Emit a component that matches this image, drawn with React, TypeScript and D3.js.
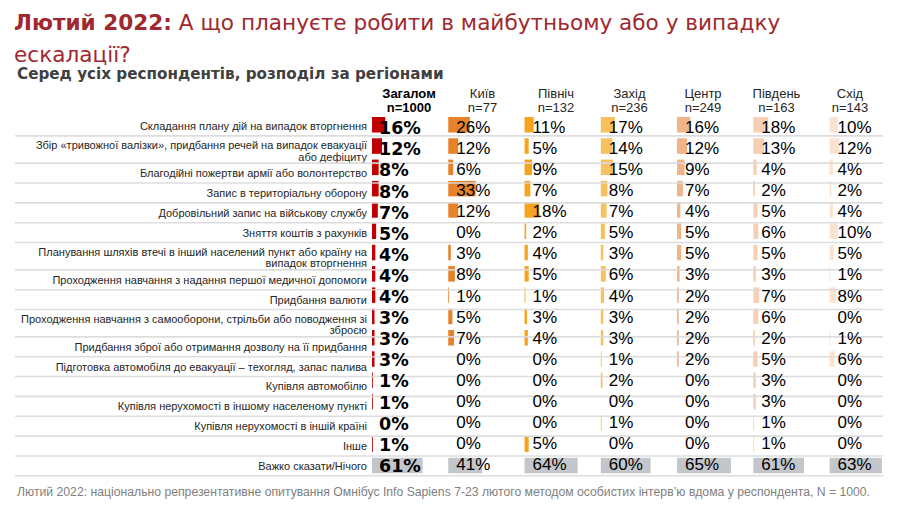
import React from 'react';
import * as d3 from 'd3';

const regions = ['Загалом', 'Київ', 'Північ', 'Захід', 'Центр', 'Південь', 'Схід'];
const sampleSizes = [1000, 77, 132, 236, 249, 163, 143];

const labelLines: string[][] = [
  ['Складання плану дій на випадок вторгнення'],
  ['Збір «тривожної валізки», придбання речей на випадок евакуації', 'або дефіциту'],
  ['Благодійні пожертви армії або волонтерство'],
  ['Запис в територіальну оборону'],
  ['Добровільний запис на військову службу'],
  ['Зняття коштів з рахунків'],
  ['Планування шляхів втечі в інший населений пункт або країну на', 'випадок вторгнення'],
  ['Проходження навчання з надання першої медичної допомоги'],
  ['Придбання валюти'],
  ['Проходження навчання з самооборони, стрільби або поводження зі', 'зброєю'],
  ['Придбання зброї або отримання дозволу на її придбання'],
  ['Підготовка автомобіля до евакуації – техогляд, запас палива'],
  ['Купівля автомобілю'],
  ['Купівля нерухомості в іншому населеному пункті'],
  ['Купівля нерухомості в іншій країні'],
  ['Інше'],
  ['Важко сказати/Нічого'],
];

const total = [16, 12, 8, 8, 7, 5, 4, 4, 4, 3, 3, 3, 1, 1, 0, 1, 61];
const kyiv = [26, 12, 6, 33, 12, 0, 3, 8, 1, 5, 7, 0, 0, 0, 0, 0, 41];
const north = [11, 5, 9, 7, 18, 2, 4, 5, 1, 3, 4, 0, 0, 0, 0, 5, 64];
const west = [17, 14, 15, 8, 7, 5, 3, 6, 4, 3, 3, 1, 2, 0, 1, 0, 60];
const center = [16, 12, 9, 7, 4, 5, 5, 3, 2, 2, 2, 2, 0, 0, 0, 0, 65];
const south = [18, 13, 4, 2, 5, 6, 5, 3, 7, 6, 2, 5, 3, 3, 1, 1, 61];
const east = [10, 12, 4, 2, 4, 10, 5, 1, 8, 0, 1, 6, 0, 0, 0, 0, 63];

const series = [total, kyiv, north, west, center, south, east];
const colColors = ['#c00000', '#e8822a', '#f6a41e', '#f8c05e', '#f0b488', '#f7cfb2', '#fbe3d1'];
const lastRowColor = '#c3c7cb';

const titleBold = 'Лютий 2022:';
const titleRest = ' А що плануєте робити в майбутньому або у випадку';
const titleLine2 = 'ескалації?';
const subtitle = 'Серед усіх респондентів, розподіл за регіонами';
const footer = 'Лютий 2022:  національно репрезентативне опитування Омнібус Info Sapiens 7-23 лютого методом особистих інтерв\u2019ю вдома у респондента, N = 1000.';

export default function App() {
  const W = 906;
  const H = 507;
  const n = labelLines.length;
  const last = n - 1;

  const colX = d3.scaleLinear().domain([0, regions.length - 1]).range([372, 829.6]);
  const headX = d3.scaleLinear().domain([0, regions.length - 1]).range([409, 850]);
  const barW = d3.scaleLinear().domain([0, 100]).range([0, 83]);
  const barY = d3.scaleLinear().domain([0, last]).range([117, 117 + last * 21.3]);
  const textY = d3.scaleLinear().domain([0, last]).range([132.7, 132.7 + last * 21.1]);

  // label table rows
  const h1 = 19.85;
  const h2 = 27.3;
  const rowTops: number[] = [];
  let acc = 116;
  labelLines.forEach((l) => {
    rowTops.push(acc);
    acc += l.length > 1 ? h2 : h1;
  });
  const rowBottoms = labelLines.map((l, i) => rowTops[i] + (l.length > 1 ? h2 : h1));

  const labelFont = "'Liberation Sans', Arial, sans-serif";
  const wideFont = "'DejaVu Sans', Verdana, sans-serif";

  return (
    <svg width={W} height={H} style={{ position: 'absolute', left: 0, top: 0, background: '#fff' }}>
      <rect x={0} y={0} width={W} height={H} fill="#fff" />
      {/* Title */}
      <text x={14} y={30} fontFamily={wideFont} fontSize={21.6} fill="#a0282f">
        <tspan fontWeight="bold">{titleBold}</tspan>
        <tspan>{titleRest}</tspan>
      </text>
      <text x={14} y={61.5} fontFamily={wideFont} fontSize={21.6} fill="#a0282f">
        {titleLine2}
      </text>
      <text x={17} y={79.3} fontFamily={wideFont} fontWeight="bold" fontSize={15.2} fill="#404040">
        {subtitle}
      </text>

      {/* Column headers */}
      {regions.map((r, j) => (
        <g key={r}>
          <text x={headX(j)} y={97.5} textAnchor="middle" fontFamily={labelFont} fontSize={13}
            fontWeight={j === 0 ? 'bold' : 'normal'} fill={j === 0 ? '#000' : '#262626'}>{r}</text>
          <text x={headX(j)} y={111.5} textAnchor="middle" fontFamily={labelFont} fontSize={13}
            fontWeight={j === 0 ? 'bold' : 'normal'} fill={j === 0 ? '#000' : '#262626'}>{`n=${sampleSizes[j]}`}</text>
        </g>
      ))}

      {/* Row labels */}
      {labelLines.map((lines, i) => {
        const c = (rowTops[i] + rowBottoms[i]) / 2;
        return (
          <text key={i} textAnchor="end" fontFamily={labelFont} fontSize={11} fill="#262626">
            {lines.length === 1 ? (
              <tspan x={367} y={c + 4}>{lines[0]}</tspan>
            ) : (
              lines.map((t, k) => (
                <tspan key={k} x={367} y={c - 0.5 + k * 11.5}>{t}</tspan>
              ))
            )}
          </text>
        );
      })}

      {/* Bars */}
      {series.map((vals, j) =>
        vals.map((v, i) => (
          <rect key={`b${j}-${i}`} x={colX(j)} y={barY(i)} width={barW(v)} height={15.5}
            fill={i === last ? lastRowColor : colColors[j]} />
        ))
      )}

      {/* Row separators */}
      {rowBottoms.map((y, i) => (
        <line key={`l${i}`} x1={15} x2={883} y1={y} y2={y} stroke="#d9d9d9" strokeWidth={1.6} strokeOpacity={0.9} />
      ))}

      {/* Values */}
      {series.map((vals, j) =>
        vals.map((v, i) => (
          <text key={`t${j}-${i}`}
            x={j === 0 ? colX(j) + 7 : colX(j) + 8}
            y={j === 0 ? textY(i) + 1.5 : textY(i)}
            fontFamily={j === 0 ? wideFont : labelFont}
            fontWeight={j === 0 ? 'bold' : 'normal'}
            fontSize={j === 0 ? 17.5 : 17}
            fill="#000">{`${v}%`}</text>
        ))
      )}

      {/* Footer */}
      <text x={17} y={496} fontFamily={labelFont} fontSize={12} fill="#808080" textLength={853} lengthAdjust="spacingAndGlyphs">
        {footer}
      </text>
    </svg>
  );
}
